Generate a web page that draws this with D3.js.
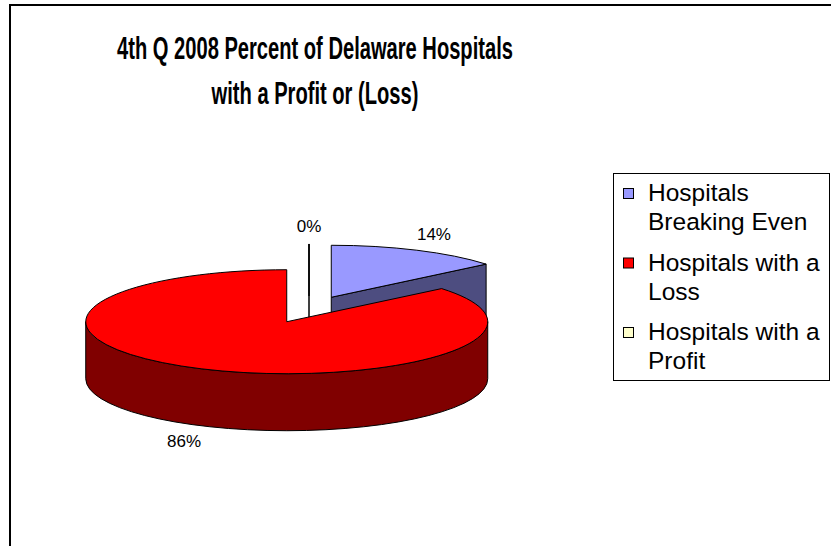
<!DOCTYPE html>
<html>
<head>
<meta charset="utf-8">
<script src="https://cdn.jsdelivr.net/npm/d3@7"></script>
<style>
  body { margin: 0; background: #fff; }
  svg { display: block; font-family: Arial, "Liberation Sans", sans-serif; }
</style>
</head>
<body>
<script>
const categories = ["Hospitals Breaking Even", "Hospitals with a Loss", "Hospitals with a Profit"];
const legendLines = [["Hospitals", "Breaking Even"], ["Hospitals with a", "Loss"], ["Hospitals with a", "Profit"]];
const percents = [14, 86, 0];
const pctLabels = ["14%", "86%", "0%"];
const topColors = ["#9999ff", "#ff0000", "#ffffcc"];
const sideColors = ["#4d4d80", "#800000", "#808066"];
const titleLines = ["4th Q 2008 Percent of Delaware Hospitals", "with a Profit or (Loss)"];

const width = 831;
const height = 546;

// pie geometry (3D tilted ellipse)
const cx = 309, cy = 309.5, rx = 201, ry = 52, depth = 57;
const explode = 0.26;

const svg = d3.select("body").append("svg")
    .attr("width", width)
    .attr("height", height);

// chart frame
svg.append("rect")
    .attr("x", 10).attr("y", 5)
    .attr("width", 900).attr("height", 700)
    .attr("fill", "#fff")
    .attr("stroke", "#000")
    .attr("stroke-width", 2);

// title (narrow bold)
const title = svg.append("g")
    .attr("transform", `translate(315,0) scale(0.66,1)`)
    .attr("text-anchor", "middle")
    .style("font-weight", "bold")
    .style("font-size", "30.5px");
title.selectAll("text")
  .data(titleLines)
  .join("text")
    .attr("x", 0)
    .attr("y", (d, i) => 59 + i * 45)
    .text(d => d);

const x = d3.scaleLinear().domain([-1, 1]).range([cx - rx, cx + rx]);
const y = d3.scaleLinear().domain([-1, 1]).range([cy + ry, cy - ry]);

const slices = d3.pie().sort(null).startAngle(0).endAngle(2 * Math.PI)(percents);

slices.forEach(d => {
  const mid = (d.startAngle + d.endAngle) / 2;
  d.mid = mid;
  d.ox = explode * Math.sin(mid);
  d.oy = explode * Math.cos(mid);
});

const pt = (d, a, dz = 0) => [x(d.ox + Math.sin(a)), y(d.oy + Math.cos(a)) + dz];
const apex = (d, dz = 0) => [x(d.ox), y(d.oy) + dz];

function topPath(d) {
  const p0 = pt(d, d.startAngle), p1 = pt(d, d.endAngle), c = apex(d);
  const large = d.endAngle - d.startAngle > Math.PI ? 1 : 0;
  return `M${c}L${p0}A${rx},${ry} 0 ${large} 1 ${p1}Z`;
}

function sidePath(d) {
  const a0 = Math.max(d.startAngle, Math.PI / 2);
  const a1 = Math.min(d.endAngle, 3 * Math.PI / 2);
  if (a1 <= a0) return null;
  const p0 = pt(d, a0), p1 = pt(d, a1);
  const q0 = pt(d, a0, depth), q1 = pt(d, a1, depth);
  const large = a1 - a0 > Math.PI ? 1 : 0;
  return `M${p0}A${rx},${ry} 0 ${large} 1 ${p1}L${q1}A${rx},${ry} 0 ${large} 0 ${q0}Z`;
}

function cutPath(d, a) {
  return `M${apex(d)}L${pt(d, a)}L${pt(d, a, depth)}L${apex(d, depth)}Z`;
}

// side faces first
const sides = svg.append("g")
    .attr("stroke", "#000")
    .attr("stroke-width", 1)
    .attr("stroke-linejoin", "round");

slices.forEach((d, i) => {
  const faces = [];
  if (d.endAngle - d.startAngle < 1e-9) {
    faces.push(cutPath(d, d.startAngle));
  } else {
    if (Math.sin(d.startAngle) < -1e-6) faces.push(cutPath(d, d.startAngle));
    if (Math.sin(d.endAngle) > 1e-6) faces.push(cutPath(d, d.endAngle));
    const s = sidePath(d);
    if (s) faces.push(s);
  }
  faces.forEach(f => sides.append("path").attr("d", f).attr("fill", sideColors[i]));
});

// top faces
svg.append("g")
    .attr("stroke", "#000")
    .attr("stroke-width", 1)
    .attr("stroke-linejoin", "round")
  .selectAll("path")
  .data(slices)
  .join("path")
    .attr("d", topPath)
    .attr("fill", (d, i) => topColors[i]);

// data labels
svg.append("g")
    .attr("text-anchor", "middle")
    .style("font-size", "17px")
  .selectAll("text")
  .data(slices)
  .join("text")
    .attr("x", d => x(d.ox + 1.2 * Math.sin(d.mid)))
    .attr("y", d => y(d.oy + 1.2 * Math.cos(d.mid)) + (Math.cos(d.mid) < 0 ? depth : 0) - 7 * Math.cos(d.mid))
    .attr("dominant-baseline", "central")
    .attr("fill", "#000")
    .text((d, i) => pctLabels[i]);

// legend
const legend = svg.append("g");
legend.append("rect")
    .attr("x", 613.5).attr("y", 173.5)
    .attr("width", 216).attr("height", 207)
    .attr("fill", "#fff")
    .attr("stroke", "#000")
    .attr("stroke-width", 1);

const item = legend.selectAll("g.item")
  .data(categories)
  .join("g")
    .attr("class", "item")
    .attr("transform", (d, i) => `translate(623,${188 + i * 69.5})`);

item.append("rect")
    .attr("x", 0.5).attr("y", 0.5)
    .attr("width", 10).attr("height", 10)
    .attr("fill", (d, i) => topColors[i])
    .attr("stroke", "#000")
    .attr("stroke-width", 1);

item.append("text")
    .style("font-size", "24.5px")
  .selectAll("tspan")
  .data((d, i) => legendLines[i])
  .join("tspan")
    .attr("x", 25)
    .attr("y", (d, j) => 13 + j * 29)
    .text(d => d);
</script>
</body>
</html>
